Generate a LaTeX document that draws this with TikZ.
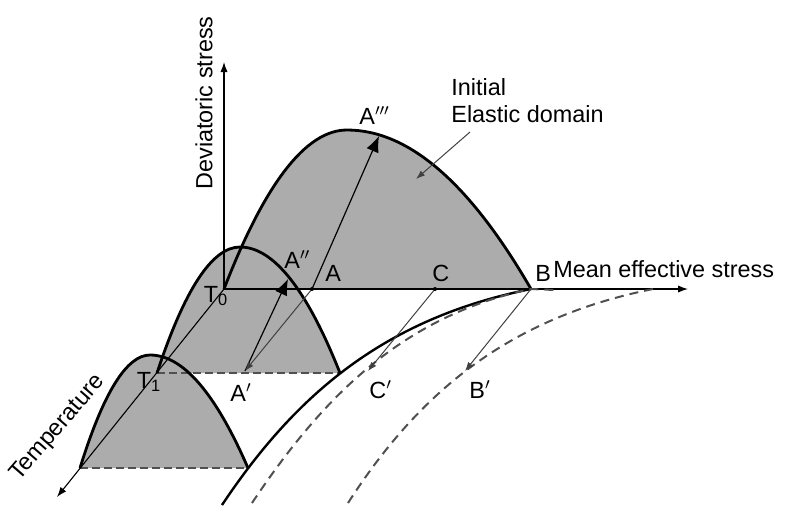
\documentclass[tikz,border=0pt]{standalone}
\usepackage{fontspec}
\setmainfont{Liberation Sans}
\usetikzlibrary{arrows.meta}
\definecolor{capgray}{RGB}{172,172,172}
\definecolor{dashgray}{RGB}{80,80,80}
\begin{document}
\begin{tikzpicture}[x=0.5pt, y=-0.5pt,
  font=\fontsize{11.7}{13.5}\selectfont,
  capline/.style={line width=1.4pt},
  axisline/.style={line width=0.55pt, -{Latex[length=5pt,width=3.6pt]}},
  loadarrow/.style={line width=0.5pt, black!75, -{Latex[length=4.5pt,width=3.2pt]}},
  bigarrow/.style={line width=0.6pt, -{Latex[length=8pt,width=6.5pt]}},
  limitline/.style={line width=1pt, dashgray, dash pattern=on 4.5pt off 3pt},
  cutline/.style={line width=0.9pt, dashgray, dash pattern=on 4pt off 2pt},
  lbl/.style={inner sep=0pt, anchor=base west}]
\useasboundingbox (0,0) rectangle (785,527);
% axes and levels
\coordinate (T0) at (224,289);
\coordinate (T1) at (157,373);
\coordinate (T2) at (80,468);
\coordinate (qend) at (224,62);
\coordinate (pend) at (688,289);
\coordinate (tend) at (57,497);
\coordinate (R1) at (340,373);
\coordinate (R2) at (248,468);
% stress points
\coordinate (A) at (312,289);
\coordinate (C) at (435,289);
\coordinate (B) at (531,289);
\coordinate (A1) at (245,371);
\coordinate (A2) at (288,279);
\coordinate (A3) at (379,136);
\coordinate (C1) at (368,371);
\coordinate (B1) at (465,371);
\coordinate (edfrom) at (470,132);
\coordinate (edto) at (416,179);

% elastic domains
\fill[capgray] (T0) .. controls (265,183) and (306,130) .. (347,130) .. controls (408.7,130) and (469.7,183) .. (B) -- cycle;
\fill[capgray] (T1) .. controls (184.7,289) and (212.3,247) .. (240,247) .. controls (273.3,247) and (306.7,289) .. (R1) -- cycle;
\fill[capgray] (T2) .. controls (103.3,392.7) and (126.7,355) .. (150,355) .. controls (182.7,355) and (215.3,392.7) .. (R2) -- cycle;
\draw[cutline] (T1) -- (R1);
\draw[cutline] (T2) -- (R2);

\draw[axisline] (T0) -- (qend);
\draw[axisline] (T0) -- (pend);
\draw[axisline] (T0) -- (tend);

\draw[capline] (T0) .. controls (265,183) and (306,130) .. (347,130) .. controls (408.7,130) and (469.7,183) .. (B);
\draw[capline] (T1) .. controls (184.7,289) and (212.3,247) .. (240,247) .. controls (273.3,247) and (306.7,289) .. (R1);
\draw[capline] (T2) .. controls (103.3,392.7) and (126.7,355) .. (150,355) .. controls (182.7,355) and (215.3,392.7) .. (R2);

% limits in the p-T plane
\draw[capline, line width=1.2pt] (222,505) .. controls (296.5,393.3) and (385.7,318.1) .. (B);
\draw[limitline] (252,503) .. controls (322,398) and (402,316) .. (B) -- (555,290);
\draw[limitline] (348,503) .. controls (418.5,393.3) and (507.7,318.1) .. (653,289);

% loading paths
\draw[bigarrow] (A) -- (A3);
\draw[bigarrow] (A1) -- (A2);
\draw[loadarrow] (A) -- (A1);
\draw[loadarrow] (C) -- (C1);
\draw[loadarrow] (B) -- (B1);
\draw[loadarrow] (edfrom) -- (edto);
\fill (A) circle (2);
\fill (C) circle (2);

% labels
\node[rotate=90] (qlab) at (204,103) {Deviatoric stress};
\node[lbl] (plab) at (553,277) {Mean effective stress};
\node[rotate=49] (tlab) at (58,428) {Temperature};
\node[align=left, anchor=north west, inner sep=0pt] (edlab) at (451,78) {Initial\\Elastic domain};
\node (t0lab) at (216,296) {T\textsubscript{0}};
\node (t1lab) at (149,382) {T\textsubscript{1}};
\node[lbl] (a3lab) at (359,124) {A$'''$};
\node[lbl] (a2lab) at (284,268) {A$''$};
\node[lbl] (alab) at (325,281) {A};
\node[lbl] (clab) at (432,281) {C};
\node[lbl] (blab) at (535,281) {B};
\node[lbl] (a1lab) at (230,401) {A$'$};
\node[lbl] (c1lab) at (369,398) {C$'$};
\node[lbl] (b1lab) at (469,398) {B$'$};
\end{tikzpicture}
\end{document}
